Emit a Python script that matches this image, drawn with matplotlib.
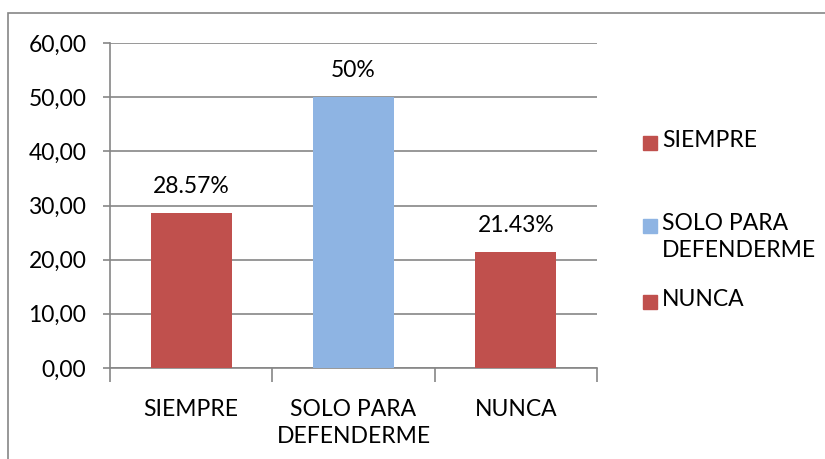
import matplotlib.pyplot as plt
import matplotlib.patches as mpatches
from matplotlib.ticker import FuncFormatter
import numpy as np

categorias = ['SIEMPRE', 'SOLO PARA\nDEFENDERME', 'NUNCA']
valores = [28.57, 50.0, 21.43]
etiquetas = ['28.57%', '50%', '21.43%']
colores = ['#C0504D', '#8EB4E3', '#C0504D']

plt.rcParams['font.family'] = ['Lato', 'DejaVu Sans']
plt.rcParams['font.size'] = 16.5

W, H = 825, 459
fig = plt.figure(figsize=(W / 100, H / 100), dpi=100)
ax = fig.add_axes([110 / W, 1 - 368 / H, 487 / W, 325 / H])

# marco exterior del grafico
fig.patches.append(mpatches.Rectangle((8 / W, -0.1), 1.2, (H - 13) / H + 0.1,
                                      transform=fig.transFigure, fill=False,
                                      edgecolor='#868686', linewidth=1.2))

x = np.arange(len(categorias))
ax.bar(x, valores, width=0.5, color=colores, zorder=3)
for xi, v, t in zip(x, valores, etiquetas):
    ax.text(xi, v + 3, t, ha='center', va='bottom')

ax.set_xlim(-0.5, 2.5)
ax.set_ylim(0, 60)
ax.set_yticks(np.arange(0, 61, 10))
ax.yaxis.set_major_formatter(FuncFormatter(lambda v, p: f'{v:.2f}'.replace('.', ',')))
ax.grid(True, axis='y', color='#868686', linewidth=1.2, zorder=0)

ax.set_xticks(x)
ax.set_xticklabels(categorias, linespacing=1.35)
ax.set_xticks([-0.5, 0.5, 1.5, 2.5], minor=True)
ax.tick_params(axis='x', which='major', length=0, pad=22)
ax.tick_params(axis='x', which='minor', length=10, color='#868686', width=1.2)
ax.tick_params(axis='y', length=5, color='#868686', width=1.2, pad=12)

for s in ['top', 'right']:
    ax.spines[s].set_visible(False)
for s in ['left', 'bottom']:
    ax.spines[s].set_color('#868686')
    ax.spines[s].set_linewidth(1.2)

# leyenda a mano: el cuadro va alineado con la primera linea del texto
leyenda_y = [143, 226, 302]
for nombre, c, yp in zip(categorias, colores, leyenda_y):
    fig.patches.append(mpatches.Rectangle((643 / W, 1 - (yp + 7) / H), 14 / W, 14 / H,
                                          transform=fig.transFigure, color=c))
    fig.text(662 / W, 1 - (yp - 13) / H, nombre, ha='left', va='top', linespacing=1.35)

fig.savefig('out.png', dpi=100)
